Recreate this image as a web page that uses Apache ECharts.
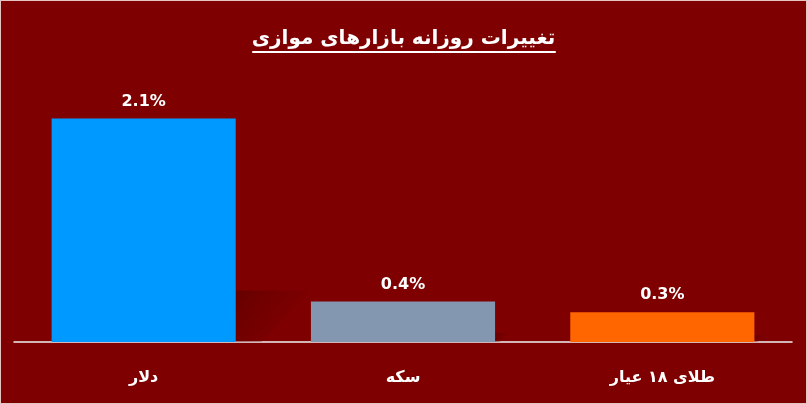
<!DOCTYPE html>
<html>
<head>
<meta charset="utf-8">
<script src="https://cdn.jsdelivr.net/npm/echarts@6/dist/echarts.min.js"></script>
<style>
html,body{margin:0;padding:0;background:#7f0000;}
#wrap{position:absolute;left:0;top:0;width:805px;height:402px;border:1px solid #e6c4c4;background:#7f0000;}
#chart{width:805px;height:402px;}
</style>
</head>
<body>
<div id="wrap"><div id="chart"></div></div>
<script>
const titleText = 'تغییرات روزانه بازارهای موازی';
const categories = ['دلار', 'سکه', 'طلای ۱۸ عیار'];
const values = [2.1, 0.38, 0.28];
const valueLabels = ['2.1%', '0.4%', '0.3%'];
const barColors = ['#0099ff', '#8497b0', '#ff6600'];

const chart = echarts.init(document.getElementById('chart'), null, {renderer: 'canvas'});

const titleFont = 'bold 20px "DejaVu Sans"';
const cv = document.createElement('canvas').getContext('2d');
cv.font = titleFont;
const tw = cv.measureText(titleText).width;
const cx = 403;

chart.setOption({
  backgroundColor: '#7f0000',
  animation: false,
  title: {
    text: titleText,
    left: 'center',
    top: 23,
    textStyle: {color: '#ffffff', fontFamily: 'DejaVu Sans', fontWeight: 'bold', fontSize: 20}
  },
  graphic: [{
    type: 'line',
    shape: {x1: cx - tw / 2, y1: 51, x2: cx + tw / 2, y2: 51},
    style: {stroke: '#ffffff', lineWidth: 2}
  }],
  grid: {left: 13, right: 14, top: 75, bottom: 61, containLabel: false},
  xAxis: {
    type: 'category',
    data: categories,
    axisLine: {lineStyle: {color: '#f2f2f2', width: 1.5}},
    axisTick: {show: false},
    axisLabel: {color: '#ffffff', fontSize: 16, fontWeight: 'bold', fontFamily: 'DejaVu Sans', margin: 28}
  },
  yAxis: {
    type: 'value', min: 0, max: 2.5,
    show: false, splitLine: {show: false}
  },
  series: [
    {
      type: 'custom',
      z: 1,
      data: values.map((v, i) => [i, v]),
      renderItem: function (params, api) {
        const top = api.coord([api.value(0), api.value(1)]);
        const base = api.coord([api.value(0), 0]);
        const band = api.size([1, 0])[0];
        const xr = base[0] + band * 0.71 / 2;
        const h = base[1] - top[1];
        const s = h * 0.23;
        return {
          type: 'polygon',
          shape: {points: [[xr, base[1]], [xr, base[1] - s], [xr + 1.45 * s, base[1] - s], [xr + 0.5 * s, base[1]]]},
          style: {
            fill: new echarts.graphic.LinearGradient(0, 0, 1, 1, [
              {offset: 0, color: 'rgba(80,0,0,0.55)'},
              {offset: 0.5, color: 'rgba(100,0,0,0.3)'},
              {offset: 1, color: 'rgba(127,0,0,0)'}
            ])
          },
          silent: true
        };
      }
    },
    {
      type: 'bar',
      z: 2,
      barWidth: '71%',
      data: values.map((v, i) => ({value: v, itemStyle: {color: barColors[i]}})),
      label: {
        show: true, position: 'top', distance: 9,
        color: '#ffffff', fontSize: 16, fontWeight: 'bold', fontFamily: 'DejaVu Sans',
        formatter: p => valueLabels[p.dataIndex]
      }
    }
  ]
});
</script>
</body>
</html>
